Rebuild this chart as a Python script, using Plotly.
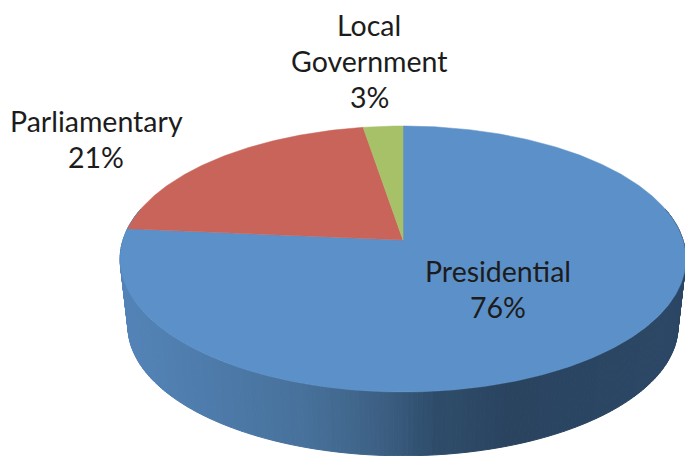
import numpy as np
import plotly.graph_objects as go

categories = ["Presidential", "Parliamentary", "Local Government"]
values = [76.4, 21.0, 2.6]
slice_colors = ["#5C90C8", "#C8645A", "#A6C168"]
label_lines = [["Presidential"], ["Parliamentary"], ["Local", "Government"]]
label_spots = [(498, 271), (96, 121), (369, 25)]

W, H = 685, 456
CX, CY = 403, 240
B, A, K = 280.0, 130.3, 1 / 7
DEPTH, SHRINK = 68, 0.972
LINE_GAP = 36
FONT = dict(family="Lato, Open Sans, sans-serif", size=28.5, color="#1c1c1c")


def project(theta):
    """theta: clockwise from 12 o'clock; perspective view of the unit circle."""
    u, v = np.sin(theta), np.cos(theta)
    w = 1 + K * v
    return CX + B * u / w, CY - A * v / w


def lower(x, y):
    return CX + (x - CX) * SHRINK, CY + (y - CY) * SHRINK + DEPTH


def side_color(x):
    xs = [120, 200, 300, 375, 435, 510, 685]
    rs = [84, 78, 72, 62, 47, 42, 44]
    gs = [132, 124, 114, 98, 77, 68, 72]
    bs = [184, 172, 156, 134, 107, 96, 102]
    return "rgb(%d,%d,%d)" % (np.interp(x, xs, rs), np.interp(x, xs, gs), np.interp(x, xs, bs))


fig = go.Figure()

# Side wall, drawn as thin strips so the shade changes from left to right
edges = np.linspace(np.pi / 2 - 0.25, 3 * np.pi / 2 + 0.25, 241)
for a0, a1 in zip(edges[:-1], edges[1:]):
    x0, y0 = project(a0)
    x1, y1 = project(a1)
    bx0, by0 = lower(x0, y0)
    bx1, by1 = lower(x1, y1)
    c = side_color((x0 + x1) / 2)
    fig.add_trace(go.Scatter(
        x=[x0, x1, bx1, bx0, x0], y=[y0, y1, by1, by0, y0],
        mode="lines", fill="toself", fillcolor=c, line=dict(color=c, width=1),
        hoverinfo="skip", showlegend=False))

# Top face: slices run clockwise from 12 o'clock
fractions = np.array(values) / sum(values)
start = 0.0
for name, frac, color in zip(categories, fractions, slice_colors):
    end = start + frac * 2 * np.pi
    t = np.linspace(start, end, max(int(frac * 720), 8))
    px, py = project(t)
    fig.add_trace(go.Scatter(
        x=np.r_[CX, px, CX], y=np.r_[CY, py, CY],
        mode="lines", fill="toself", fillcolor=color, line=dict(color=color, width=0.5),
        name=name, hoverinfo="name", showlegend=False))
    start = end

# Labels
annotations = []
for lines, frac, (lx, ly) in zip(label_lines, fractions, label_spots):
    rows = lines + ["%d%%" % round(frac * 100)]
    for i, row in enumerate(rows):
        annotations.append(dict(x=lx, y=ly + i * LINE_GAP, text=row, showarrow=False,
                                xanchor="center", yanchor="middle", font=FONT))

fig.update_layout(
    width=W, height=H, autosize=False,
    margin=dict(l=0, r=0, t=0, b=0),
    paper_bgcolor="white", plot_bgcolor="white",
    xaxis=dict(range=[0, W], visible=False, fixedrange=True),
    yaxis=dict(range=[H, 0], visible=False, fixedrange=True),
    annotations=annotations,
)
fig.write_html(
    "out.html",
    config=dict(displayModeBar=False),
    post_script="document.body.style.margin='0';document.body.style.overflow='hidden';",
)
